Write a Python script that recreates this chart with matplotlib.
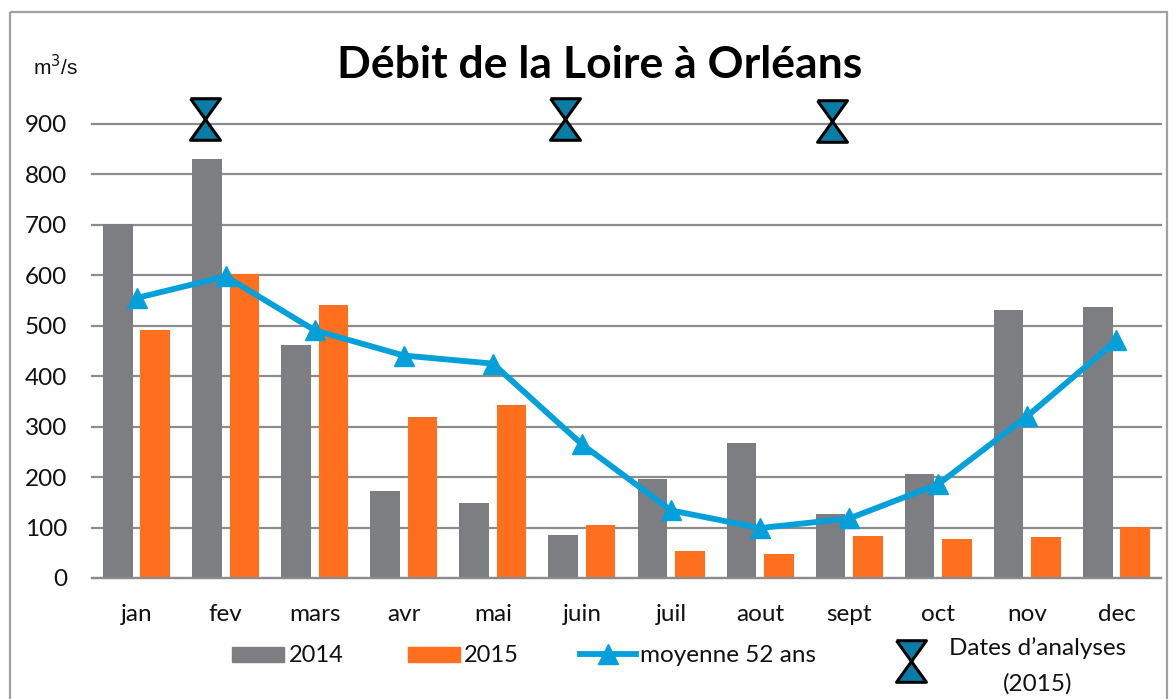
import matplotlib
matplotlib.use("Agg")
import matplotlib.pyplot as plt
from matplotlib.path import Path
from matplotlib.patches import Rectangle

months = ["jan", "fev", "mars", "avr", "mai", "juin", "juil", "aout", "sept", "oct", "nov", "dec"]
y2014 = [702, 830, 462, 172, 148, 86, 197, 267, 127, 207, 531, 538]
y2015 = [492, 602, 542, 320, 342, 106, 53, 48, 83, 77, 81, 101]
mean52 = [555, 598, 491, 441, 425, 265, 134, 99, 118, 186, 321, 471]
analysis_x = [0.77, 4.81, 7.81]
analysis_y = [910, 910, 906]
yticks = [0, 100, 200, 300, 400, 500, 600, 700, 800, 900]

W, H = 1176, 699
GRAY, ORANGE, BLUE, TEAL, RULE = "#7d7e82", "#ff6f1e", "#03a0da", "#0a7da6", "#8c8c8c"
plt.rcParams["font.family"] = ["Lato", "DejaVu Sans"]

fig = plt.figure(figsize=(W / 100, H / 100), dpi=100)
fig.patch.set_facecolor("white")
L, R, T, B = 92, 1161, 124, 578
ax = fig.add_axes([L / W, 1 - B / H, (R - L) / W, (B - T) / H])
ax.set_xlim(-0.5, 11.5)
ax.set_ylim(0, 900)
ax.set_zorder(2)
ax.patch.set_alpha(0)

hourglass = Path([(-0.72, 1), (0.72, 1), (-0.72, -1), (0.72, -1), (-0.72, 1)], closed=False)
glass_size = (44 * 0.68) ** 2

xs = list(range(12))
ax.bar([x - 0.21 for x in xs], y2014, width=0.333, color=GRAY, zorder=2)
ax.bar([x + 0.21 for x in xs], y2015, width=0.333, color=ORANGE, zorder=2)
ax.plot(xs, mean52, color=BLUE, lw=4.2, marker="^", ms=14, mec=BLUE, mfc=BLUE, zorder=3)
ax.scatter(analysis_x, analysis_y, marker=hourglass, s=glass_size,
           facecolor=TEAL, edgecolor="black", linewidth=2.2, clip_on=False, zorder=4)

ax.set_yticks(yticks)
ax.set_xticks(xs, months)
ax.grid(axis="y", color=RULE, lw=1.6, zorder=0, clip_on=False)
ax.set_axisbelow(True)
for s in ("top", "left", "right"):
    ax.spines[s].set_visible(False)
ax.spines["bottom"].set_color(RULE)
ax.spines["bottom"].set_linewidth(1.6)
ax.tick_params(axis="both", length=0, labelsize=17.5, labelcolor="#111111")
ax.tick_params(axis="x", pad=19)
ax.tick_params(axis="y", pad=18)

ov = fig.add_axes([0, 0, 1, 1])
ov.set_xlim(0, W)
ov.set_ylim(H, 0)
ov.axis("off")
ov.set_zorder(1)
ov.add_patch(Rectangle((9.5, 12), 1157, 720, fill=False, ec="#a0a0a0", lw=1.6, clip_on=True))
ov.text(600, 65, "Débit de la Loire à Orléans", fontsize=32, fontweight="bold",
        ha="center", va="center", color="black")
ov.text(55, 67, "m$^{3}$/s", fontsize=15, family="Liberation Sans", ha="center", va="center",
        color="#111111", math_fontfamily="custom")

ov.add_patch(Rectangle((232, 647), 52, 15, color=GRAY))
ov.text(289, 655, "2014", fontsize=17, va="center", color="#111111")
ov.add_patch(Rectangle((408, 647), 52, 15, color=ORANGE))
ov.text(464, 655, "2015", fontsize=17, va="center", color="#111111")
ov.plot([580, 636], [654, 654], color=BLUE, lw=4.2)
ov.plot([608], [654], marker="^", ms=14, color=BLUE)
ov.text(640, 655, "moyenne 52 ans", fontsize=17.5, va="center", color="#111111")
ov.scatter([911], [661], marker=hourglass, s=glass_size, facecolor=TEAL,
           edgecolor="black", linewidth=2.2)
ov.text(1038, 648, "Dates d’analyses", fontsize=17.5, ha="center", va="center", color="#111111")
ov.text(1038, 684, "(2015)", fontsize=17.5, ha="center", va="center", color="#111111")

fig.savefig("out.png", dpi=100)
